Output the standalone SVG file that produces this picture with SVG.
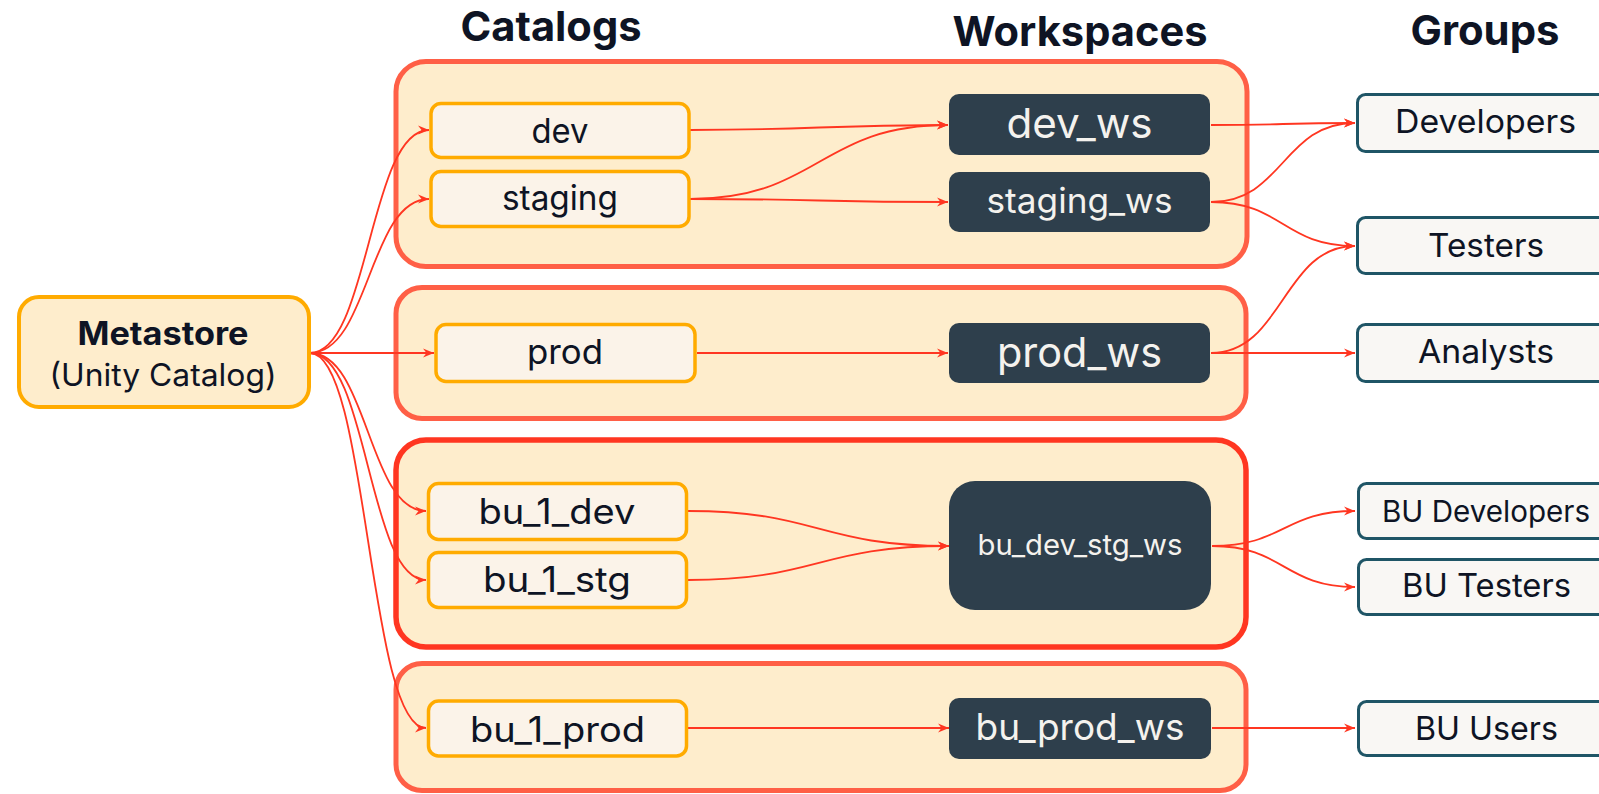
<svg xmlns="http://www.w3.org/2000/svg" width="1599" height="794" viewBox="0 0 1599 794">
  <defs>
    <marker id="arrow" markerUnits="userSpaceOnUse" markerWidth="12" markerHeight="10" refX="11" refY="5" orient="auto">
      <path d="M0,0.5 L11,5 L0,9.5 L3.5,5 Z" fill="#FF3621"/>
    </marker>
    <style>
      .title { font-family: Inter, "Noto Sans", sans-serif; font-weight: 700; font-size: 41px; fill: #0E1424; text-anchor: middle; }
      .cluster { fill: #FEEDCC; stroke: #FF5F46; stroke-width: 5; }
      .cluster.hot { stroke: #FF3621; stroke-width: 5.5; }
      .meta rect { fill: #FEEDCC; stroke: #FFAB00; stroke-width: 4; }
      .catalog rect { fill: #FBF3E9; stroke: #FFAB00; stroke-width: 3.5; }
      .ws rect { fill: #2E3F4C; }
      .grp rect { fill: #F9F7F4; stroke: #1F5566; stroke-width: 3; }
      text { font-family: Inter, "Noto Sans", sans-serif; text-anchor: middle; }
      .catalog text, .grp text, .meta text { fill: #0E1424; }
      .ws text { fill: #F4F2EE; }
      .edges path { fill: none; stroke: #FF3621; stroke-width: 1.8; marker-end: url(#arrow); }
    </style>
  </defs>

  <rect width="1599" height="794" fill="#FFFFFF"/>

  <!-- column headings -->
  <text class="title" x="551" y="41" textLength="181" lengthAdjust="spacingAndGlyphs">Catalogs</text>
  <text class="title" x="1080" y="46" textLength="255" lengthAdjust="spacingAndGlyphs">Workspaces</text>
  <text class="title" x="1485" y="45" textLength="149" lengthAdjust="spacingAndGlyphs">Groups</text>

  <!-- environment clusters -->
  <g id="cluster-sdlc"><rect class="cluster" x="396" y="61.5" width="851" height="205" rx="30"/></g>
  <g id="cluster-prod"><rect class="cluster" x="396" y="287.5" width="850" height="131" rx="26"/></g>
  <g id="cluster-bu-sdlc"><rect class="cluster hot" x="396" y="440" width="850" height="207" rx="30"/></g>
  <g id="cluster-bu-prod"><rect class="cluster" x="396" y="663.5" width="850" height="127" rx="26"/></g>

  <!-- connectors -->
  <g class="edges" id="edges">
    <path d="M310,353 C369,353 369,130 429,130"/>
    <path d="M310,353 C369,353 369,199 429,199"/>
    <path d="M310,353 L434,353"/>
    <path d="M310,353 C368,353 368,511 426,511"/>
    <path d="M310,353 C368,353 368,580 426,580"/>
    <path d="M310,353 C368,353 368,728 426,728"/>

    <path d="M690,130 C819,130 819,125 948,125"/>
    <path d="M690,199 C819,199 819,125 948,125"/>
    <path d="M690,199 C819,199 819,202 948,202"/>
    <path d="M697,353 L948,353"/>
    <path d="M688,511 C818,511 818,546 949,546"/>
    <path d="M688,580 C818,580 818,546 949,546"/>
    <path d="M688,728 L949,728"/>

    <path d="M1211,125 C1283,125 1283,123 1355,123"/>
    <path d="M1211,202 C1283,202 1283,123 1355,123"/>
    <path d="M1211,202 C1283,202 1283,246 1355,246"/>
    <path d="M1211,353 C1283,353 1283,246 1355,246"/>
    <path d="M1211,353 L1355,353"/>
    <path d="M1212,546 C1284,546 1284,511 1355,511"/>
    <path d="M1212,546 C1284,546 1284,587 1355,587"/>
    <path d="M1212,728 L1355,728"/>
  </g>

  <!-- metastore -->
  <g id="metastore" class="meta">
    <rect x="19" y="297" width="290" height="110" rx="20"/>
    <text x="163" y="345" font-size="32" font-weight="700" textLength="171" lengthAdjust="spacingAndGlyphs">Metastore</text>
    <text x="163" y="386" font-size="31" textLength="227" lengthAdjust="spacingAndGlyphs">(Unity Catalog)</text>
  </g>

  <!-- catalogs -->
  <g id="cat-dev" class="catalog">
    <rect x="431" y="103.5" width="258" height="54" rx="10"/>
    <text x="560" y="143" font-size="34" textLength="57" lengthAdjust="spacingAndGlyphs">dev</text>
  </g>
  <g id="cat-staging" class="catalog">
    <rect x="431" y="171.5" width="258" height="55" rx="10"/>
    <text x="560" y="210" font-size="34" textLength="116" lengthAdjust="spacingAndGlyphs">staging</text>
  </g>
  <g id="cat-prod" class="catalog">
    <rect x="436" y="324.5" width="259" height="57" rx="10"/>
    <text x="565" y="364" font-size="34" textLength="76" lengthAdjust="spacingAndGlyphs">prod</text>
  </g>
  <g id="cat-bu-1-dev" class="catalog">
    <rect x="428.5" y="483.5" width="258" height="56" rx="10"/>
    <text x="557" y="524" font-size="35" textLength="157" lengthAdjust="spacingAndGlyphs">bu_1_dev</text>
  </g>
  <g id="cat-bu-1-stg" class="catalog">
    <rect x="428.5" y="552.5" width="258" height="55" rx="10"/>
    <text x="557" y="592" font-size="35" textLength="148" lengthAdjust="spacingAndGlyphs">bu_1_stg</text>
  </g>
  <g id="cat-bu-1-prod" class="catalog">
    <rect x="428.5" y="701" width="258" height="55" rx="10"/>
    <text x="557.5" y="742" font-size="35" textLength="175" lengthAdjust="spacingAndGlyphs">bu_1_prod</text>
  </g>

  <!-- workspaces -->
  <g id="ws-dev" class="ws">
    <rect x="949" y="94" width="261" height="61" rx="10"/>
    <text x="1079.5" y="138" font-size="41" textLength="146" lengthAdjust="spacingAndGlyphs">dev_ws</text>
  </g>
  <g id="ws-staging" class="ws">
    <rect x="949" y="172" width="261" height="60" rx="10"/>
    <text x="1079.5" y="213" font-size="35" textLength="186" lengthAdjust="spacingAndGlyphs">staging_ws</text>
  </g>
  <g id="ws-prod" class="ws">
    <rect x="949" y="323" width="261" height="60" rx="10"/>
    <text x="1079.5" y="367" font-size="41" textLength="165" lengthAdjust="spacingAndGlyphs">prod_ws</text>
  </g>
  <g id="ws-bu-dev-stg" class="ws">
    <rect x="949" y="481" width="262" height="129" rx="26"/>
    <text x="1080" y="555" font-size="29" textLength="205" lengthAdjust="spacingAndGlyphs">bu_dev_stg_ws</text>
  </g>
  <g id="ws-bu-prod" class="ws">
    <rect x="949" y="698" width="262" height="61" rx="10"/>
    <text x="1080" y="740" font-size="37" textLength="209" lengthAdjust="spacingAndGlyphs">bu_prod_ws</text>
  </g>

  <!-- groups -->
  <g id="grp-developers" class="grp">
    <rect x="1357.5" y="94.5" width="260" height="57" rx="8"/>
    <text x="1485.5" y="133" font-size="33" textLength="181" lengthAdjust="spacingAndGlyphs">Developers</text>
  </g>
  <g id="grp-testers" class="grp">
    <rect x="1357.5" y="217.5" width="260" height="56" rx="8"/>
    <text x="1486" y="257" font-size="33" textLength="116" lengthAdjust="spacingAndGlyphs">Testers</text>
  </g>
  <g id="grp-analysts" class="grp">
    <rect x="1357.5" y="324.5" width="260" height="57" rx="8"/>
    <text x="1486" y="363" font-size="33" textLength="136" lengthAdjust="spacingAndGlyphs">Analysts</text>
  </g>
  <g id="grp-bu-developers" class="grp">
    <rect x="1358.5" y="483.5" width="260" height="55" rx="8"/>
    <text x="1486" y="522" font-size="30" textLength="208" lengthAdjust="spacingAndGlyphs">BU Developers</text>
  </g>
  <g id="grp-bu-testers" class="grp">
    <rect x="1358.5" y="559.5" width="260" height="55" rx="8"/>
    <text x="1486.5" y="597" font-size="33" textLength="169" lengthAdjust="spacingAndGlyphs">BU Testers</text>
  </g>
  <g id="grp-bu-users" class="grp">
    <rect x="1358.5" y="701.5" width="260" height="54" rx="8"/>
    <text x="1486.5" y="740" font-size="33" textLength="143" lengthAdjust="spacingAndGlyphs">BU Users</text>
  </g>
</svg>
